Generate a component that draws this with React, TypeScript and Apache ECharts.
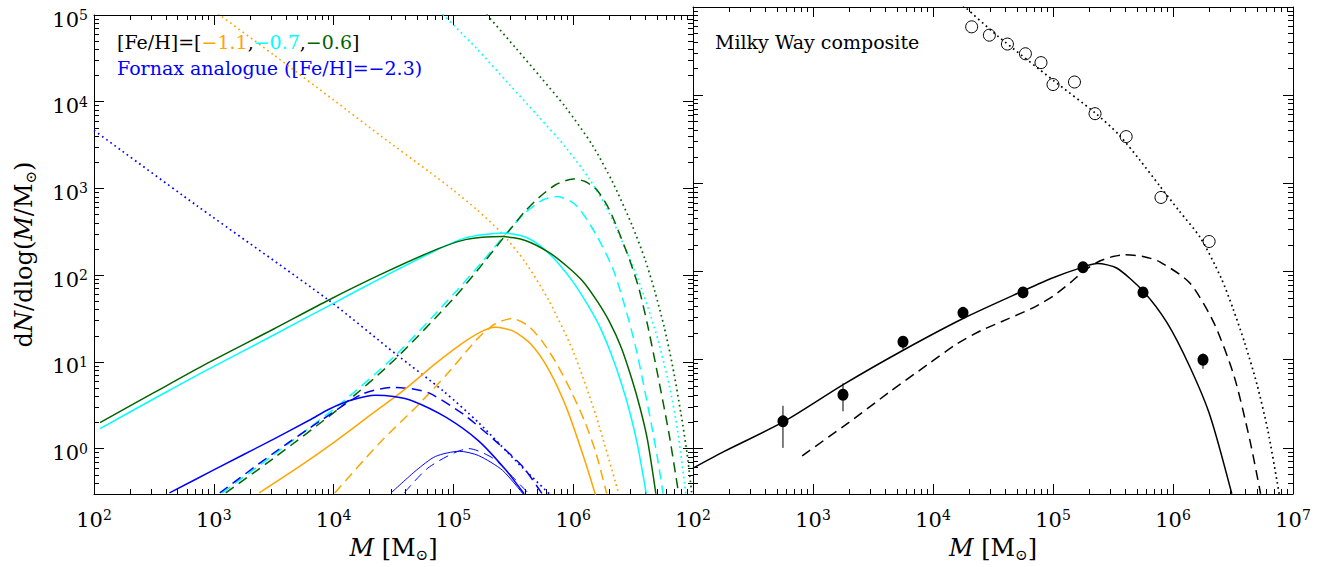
import React, { useEffect, useRef } from 'react';
import * as echarts from 'echarts';

// ---------------- DATA ----------------
// Curves are read off the picture as pairs [log10(M / Msun), log10(dN/dlog(M/Msun))]

// Left panel: [Fe/H] = -1.1 (orange), -0.7 (cyan), -0.6 (green), Fornax analogue (blue)
const orangeSolid = [[3.38,-0.51],[3.7,-0.22],[4.0,0.07],[4.3,0.38],[4.6,0.69],[4.85,0.98],[5.08,1.22],[5.25,1.36],[5.35,1.40],[5.50,1.355],[5.65,1.20],[5.80,0.90],[5.95,0.45],[6.10,-0.15],[6.19,-0.55]];
const orangeDashed = [[4.01,-0.51],[4.38,0.06],[4.71,0.51],[4.94,0.85],[5.21,1.28],[5.35,1.44],[5.49,1.50],[5.62,1.42],[5.74,1.24],[5.87,0.96],[5.99,0.64],[6.10,0.30],[6.19,-0.05],[6.28,-0.52]];
const orangeDotted = [[3.0,5.05],[3.50,4.54],[4.0,4.02],[4.40,3.60],[4.8,3.19],[5.0,2.98],[5.2,2.75],[5.4,2.49],[5.6,2.15],[5.8,1.70],[6.0,1.12],[6.19,0.38],[6.38,-0.52]];

const cyanSolid = [[2.05,0.23],[2.5,0.575],[2.94,0.905],[3.5,1.31],[3.99,1.67],[4.4,1.97],[4.83,2.27],[5.1,2.43],[5.41,2.487],[5.60,2.44],[5.75,2.31],[5.88,2.13],[6.00,1.92],[6.12,1.66],[6.22,1.41],[6.32,1.08],[6.41,0.72],[6.48,0.38],[6.54,0.02],[6.61,-0.52]];
const cyanDashed = [[3.07,-0.51],[3.5,-0.07],[4.05,0.51],[4.52,1.08],[5.0,1.78],[5.25,2.17],[5.44,2.48],[5.60,2.72],[5.75,2.87],[5.87,2.906],[5.97,2.86],[6.05,2.77],[6.19,2.47],[6.33,2.08],[6.44,1.60],[6.52,1.18],[6.58,0.79],[6.65,0.30],[6.70,-0.08],[6.75,-0.52]];
const cyanDotted = [[4.88,5.05],[5.19,4.62],[5.46,4.21],[5.71,3.83],[5.94,3.47],[6.13,3.12],[6.27,2.80],[6.38,2.48],[6.55,1.92],[6.69,1.34],[6.80,0.74],[6.87,0.22],[6.94,-0.52]];

const greenSolid = [[2.05,0.30],[2.5,0.645],[2.94,0.98],[3.5,1.38],[3.94,1.70],[4.38,2.0],[4.83,2.28],[5.10,2.41],[5.41,2.446],[5.60,2.40],[5.80,2.26],[5.95,2.10],[6.08,1.93],[6.20,1.70],[6.30,1.47],[6.40,1.17],[6.49,0.80],[6.56,0.46],[6.62,0.10],[6.69,-0.52]];
const greenDashed = [[3.10,-0.51],[3.5,-0.11],[4.05,0.47],[4.52,1.04],[5.0,1.73],[5.25,2.14],[5.44,2.47],[5.60,2.74],[5.71,2.89],[5.85,3.04],[6.0,3.11],[6.1,3.08],[6.2,2.98],[6.30,2.76],[6.38,2.50],[6.47,2.18],[6.55,1.84],[6.62,1.43],[6.69,0.96],[6.80,0.17],[6.88,-0.52]];
const greenDotted = [[5.25,5.05],[5.52,4.62],[5.73,4.28],[5.94,3.93],[6.16,3.50],[6.33,3.07],[6.49,2.58],[6.60,2.18],[6.68,1.82],[6.76,1.40],[6.83,0.95],[6.90,0.40],[6.95,-0.05],[6.99,-0.52]];

const blueSolid = [[2.63,-0.51],[3.0,-0.245],[3.5,0.11],[3.8,0.33],[3.97,0.46],[4.15,0.56],[4.35,0.615],[4.5,0.60],[4.66,0.55],[4.94,0.36],[5.21,0.09],[5.44,-0.25],[5.59,-0.52]];
const blueDashed = [[3.05,-0.51],[3.5,-0.05],[3.9,0.33],[4.24,0.63],[4.49,0.705],[4.65,0.69],[4.80,0.64],[5.08,0.40],[5.35,0.09],[5.58,-0.21],[5.74,-0.52]];
const blueDotted = [[2.0,3.67],[2.85,2.81],[3.96,1.71],[4.52,1.09],[4.92,0.66],[5.21,0.30],[5.52,-0.14],[5.80,-0.52]];
const blueThinSolid = [[4.48,-0.51],[4.69,-0.25],[4.85,-0.09],[5.05,-0.03],[5.21,-0.08],[5.41,-0.25],[5.58,-0.52]];
const blueThinDashed = [[4.59,-0.51],[4.80,-0.21],[5.13,0.0],[5.33,-0.11],[5.49,-0.32],[5.63,-0.52]];

// Right panel: Milky Way composite
const mwSolid = [[2.0,-0.23],[2.26,-0.04],[2.76,0.30],[3.255,0.72],[3.755,1.11],[4.255,1.47],[4.75,1.78],[5.0,1.93],[5.25,2.05],[5.37,2.09],[5.53,2.04],[5.75,1.78],[5.95,1.42],[6.14,0.92],[6.31,0.36],[6.49,-0.52]];
const mwDashed = [[2.91,-0.09],[3.30,0.29],[3.644,0.64],[3.95,0.94],[4.20,1.18],[4.40,1.33],[4.62,1.46],[4.85,1.60],[5.0,1.72],[5.15,1.88],[5.26,2.01],[5.39,2.12],[5.50,2.17],[5.59,2.19],[5.75,2.17],[5.89,2.11],[6.14,1.87],[6.34,1.42],[6.51,0.81],[6.64,0.09],[6.73,-0.52]];
const mwDotted = [[4.25,5.02],[4.54,4.67],[5.01,4.16],[5.35,3.80],[5.55,3.55],[5.72,3.27],[5.89,2.97],[6.05,2.69],[6.23,2.38],[6.40,1.93],[6.50,1.58],[6.60,1.18],[6.70,0.72],[6.79,0.20],[6.87,-0.40],[6.885,-0.52]];

// Filled points with error bars (M in Msun, dN/dlogM)
const mwPointM = [562, 1778, 5623, 17783, 56234, 177828, 562341, 1778279];
const mwPointN = [2.0, 4.0, 16, 34, 58, 112, 58, 10];
const mwPointLo = [1.0, 2.6, 13, 31, 54, 105, 54, 7.9];
const mwPointHi = [3.0, 5.4, 18.5, 37, 62, 120, 62, 11.8];

// Open circles
const gcM = [21000, 29500, 41700, 58900, 79400, 100000, 151000, 224000, 407000, 794000, 2000000];
const gcN = [59600, 47900, 38000, 29500, 23400, 13200, 14100, 6170, 3390, 692, 219];

// Axes (log10 units)
const X_MIN = 2, X_MAX = 7;
const Y_MIN = Math.log10(0.3), Y_MAX = 5;
const xMajorTicks = [2, 3, 4, 5, 6, 7];
const yMajorTicks = [0, 1, 2, 3, 4, 5];
const xLabelsLeft = [2, 3, 4, 5, 6];
const xLabelsRight = [2, 3, 4, 5, 6, 7];
const yLabelsLeft = [0, 1, 2, 3, 4, 5];

// ---------------- STYLE ----------------
const ORANGE = '#FFA500', CYAN = '#00FFFF', GREEN = '#006400', BLUE = '#0000FF', BLACK = '#000000';
const FONT = 'DejaVu Serif';

function minorTicks(lo: number, hi: number) {
  const out: number[] = [];
  for (let n = Math.floor(lo); n < hi; n++) {
    for (let k = 2; k <= 9; k++) {
      const v = n + Math.log10(k);
      if (v > lo + 1e-6 && v < hi - 1e-6) out.push(v);
    }
  }
  return out;
}
const xMinorTicks = minorTicks(X_MIN, X_MAX);
const yMinorTicks = minorTicks(Y_MIN, Y_MAX);

const axisLineStyle = { color: BLACK, width: 1 };

const xRich = {
  b: { fontFamily: FONT, fontSize: 21, color: BLACK, lineHeight: 24, verticalAlign: 'middle' },
  s: { fontFamily: FONT, fontSize: 14, color: BLACK, lineHeight: 10, verticalAlign: 'top' },
};
const yRich = {
  b: { fontFamily: FONT, fontSize: 21, color: BLACK, lineHeight: 14, verticalAlign: 'bottom' },
  s: { fontFamily: FONT, fontSize: 14, color: BLACK, lineHeight: 30, verticalAlign: 'middle' },
};
const titleRich = {
  i: { fontFamily: FONT, fontSize: 24, fontStyle: 'italic', color: BLACK, lineHeight: 28 },
  r: { fontFamily: FONT, fontSize: 24, color: BLACK, lineHeight: 28 },
  u: { fontFamily: FONT, fontSize: 15, color: BLACK, lineHeight: 12, verticalAlign: 'bottom' },
};
const titleStyle = { fontFamily: FONT, fontSize: 24, color: BLACK, rich: titleRich };

function makeXAxes(gridIndex: number, labels: number[]) {
  const base = { type: 'value', gridIndex, min: X_MIN, max: X_MAX, splitLine: { show: false }, silent: true };
  return [
    {
      ...base, position: 'bottom',
      axisLine: { show: true, onZero: false, lineStyle: axisLineStyle },
      axisTick: { show: true, inside: true, length: 10, customValues: xMajorTicks, lineStyle: axisLineStyle },
      axisLabel: { show: true, customValues: labels, margin: 14, rich: xRich,
        formatter: (v: number) => `{b|10}{s|${Math.round(v)}}` },
      name: '{i|M} {r|[M}{u|⊙}{r|]}', nameLocation: 'middle', nameGap: 40, nameTextStyle: titleStyle,
    },
    {
      ...base, position: 'bottom',
      axisLine: { show: false, onZero: false },
      axisTick: { show: true, inside: true, length: 5, customValues: xMinorTicks, lineStyle: axisLineStyle },
      axisLabel: { show: false },
    },
    {
      ...base, position: 'top',
      axisLine: { show: true, onZero: false, lineStyle: axisLineStyle },
      axisTick: { show: true, inside: true, length: 10, customValues: xMajorTicks, lineStyle: axisLineStyle },
      axisLabel: { show: false },
    },
    {
      ...base, position: 'top',
      axisLine: { show: false, onZero: false },
      axisTick: { show: true, inside: true, length: 5, customValues: xMinorTicks, lineStyle: axisLineStyle },
      axisLabel: { show: false },
    },
  ];
}

function makeYAxes(gridIndex: number, labels: number[] | null) {
  const base = { type: 'value', gridIndex, min: Y_MIN, max: Y_MAX, splitLine: { show: false }, silent: true };
  const main: any = {
    ...base, position: 'left',
    axisLine: { show: true, onZero: false, lineStyle: axisLineStyle },
    axisTick: { show: true, inside: true, length: 10, customValues: yMajorTicks, lineStyle: axisLineStyle },
    axisLabel: labels
      ? { show: true, customValues: labels, margin: 6, rich: yRich, lineHeight: 30,
          formatter: (v: number) => `{b|10}{s|${Math.round(v)}}` }
      : { show: false },
  };
  if (labels) {
    main.name = '{r|d}{i|N}{r|/dlog(}{i|M}{r|/M}{u|⊙}{r|)}';
    main.nameLocation = 'middle';
    main.nameRotate = 90;
    main.nameGap = 56;
    main.nameTextStyle = titleStyle;
  }
  return [
    main,
    {
      ...base, position: 'left',
      axisLine: { show: false, onZero: false },
      axisTick: { show: true, inside: true, length: 5, customValues: yMinorTicks, lineStyle: axisLineStyle },
      axisLabel: { show: false },
    },
    {
      ...base, position: 'right',
      axisLine: { show: true, onZero: false, lineStyle: axisLineStyle },
      axisTick: { show: true, inside: true, length: 10, customValues: yMajorTicks, lineStyle: axisLineStyle },
      axisLabel: { show: false },
    },
    {
      ...base, position: 'right',
      axisLine: { show: false, onZero: false },
      axisTick: { show: true, inside: true, length: 5, customValues: yMinorTicks, lineStyle: axisLineStyle },
      axisLabel: { show: false },
    },
  ];
}

const DASH = [10, 6];
const DOT = [1.7, 3.4];

function curve(data: number[][], color: string, kind: 'solid' | 'dashed' | 'dotted', grid: number, width = 1.5) {
  return {
    type: 'line', xAxisIndex: grid * 4, yAxisIndex: grid * 4, data,
    symbol: 'none', smooth: 0.25, silent: true, clip: true,
    lineStyle: {
      color,
      width: kind === 'dotted' ? 1.7 : width,
      type: kind === 'solid' ? 'solid' : kind === 'dashed' ? DASH : DOT,
      cap: 'butt',
    },
  };
}

export default function App() {
  const ref = useRef<HTMLDivElement>(null);
  useEffect(() => {
    if (!ref.current) return;
    const chart = echarts.init(ref.current, undefined, { renderer: 'svg' });
    const lg = (a: number[]) => a.map((v) => Math.log10(v));
    const pM = lg(mwPointM), pN = lg(mwPointN), pLo = lg(mwPointLo), pHi = lg(mwPointHi);
    const cM = lg(gcM), cN = lg(gcN);

    const option: any = {
      animation: false,
      backgroundColor: '#ffffff',
      grid: [
        { left: 94, top: 7, width: 599, height: 487 },
        { left: 693, top: 7, width: 600, height: 487 },
      ],
      xAxis: [...makeXAxes(0, xLabelsLeft), ...makeXAxes(1, xLabelsRight)],
      yAxis: [...makeYAxes(0, yLabelsLeft), ...makeYAxes(1, null)],
      series: [
        curve(orangeDotted, ORANGE, 'dotted', 0),
        curve(cyanDotted, CYAN, 'dotted', 0),
        curve(greenDotted, GREEN, 'dotted', 0),
        curve(blueDotted, BLUE, 'dotted', 0),
        curve(orangeDashed, ORANGE, 'dashed', 0),
        curve(cyanDashed, CYAN, 'dashed', 0),
        curve(greenDashed, GREEN, 'dashed', 0),
        curve(blueDashed, BLUE, 'dashed', 0),
        curve(blueThinDashed, BLUE, 'dashed', 0, 1),
        curve(orangeSolid, ORANGE, 'solid', 0),
        curve(cyanSolid, CYAN, 'solid', 0),
        curve(greenSolid, GREEN, 'solid', 0),
        curve(blueSolid, BLUE, 'solid', 0),
        curve(blueThinSolid, BLUE, 'solid', 0, 1),
        curve(mwDotted, BLACK, 'dotted', 1),
        curve(mwDashed, BLACK, 'dashed', 1, 1.5),
        curve(mwSolid, BLACK, 'solid', 1, 1.5),
        {
          type: 'custom', xAxisIndex: 4, yAxisIndex: 4, silent: true,
          data: pM.map((m, i) => [m, pLo[i], pHi[i]]),
          encode: { x: 0, y: [1, 2] },
          renderItem: (params: any, api: any) => {
            const a = api.coord([api.value(0), api.value(1)]);
            const b = api.coord([api.value(0), api.value(2)]);
            return { type: 'line', shape: { x1: a[0], y1: a[1], x2: b[0], y2: b[1] }, style: { stroke: BLACK, lineWidth: 1 } };
          },
        },
        {
          type: 'scatter', xAxisIndex: 4, yAxisIndex: 4, silent: true,
          data: pM.map((m, i) => [m, pN[i]]),
          symbol: 'circle', symbolSize: [11, 12],
          itemStyle: { color: BLACK, opacity: 1 },
        },
        {
          type: 'scatter', xAxisIndex: 4, yAxisIndex: 4, silent: true,
          data: cM.map((m, i) => [m, cN[i]]),
          symbol: 'circle', symbolSize: [12, 12],
          itemStyle: { color: 'rgba(0,0,0,0)', borderColor: BLACK, borderWidth: 1, opacity: 1 },
        },
      ],
      graphic: [
        {
          type: 'text', x: 117, y: 42, silent: true,
          style: {
            text: '{k|[Fe/H]=[}{o|−1.1}{k|,}{c|−0.7}{k|,}{g|−0.6}{k|]}',
            fontFamily: FONT, fontSize: 19, verticalAlign: 'middle',
            rich: {
              k: { fill: BLACK, fontFamily: FONT, fontSize: 19 },
              o: { fill: ORANGE, fontFamily: FONT, fontSize: 19 },
              c: { fill: CYAN, fontFamily: FONT, fontSize: 19 },
              g: { fill: GREEN, fontFamily: FONT, fontSize: 19 },
            },
          },
        },
        {
          type: 'text', x: 117, y: 68, silent: true,
          style: { text: 'Fornax analogue ([Fe/H]=−2.3)', fill: BLUE, fontFamily: FONT, fontSize: 19, verticalAlign: 'middle' },
        },
        {
          type: 'text', x: 715, y: 42, silent: true,
          style: { text: 'Milky Way composite', fill: BLACK, fontFamily: FONT, fontSize: 19, verticalAlign: 'middle' },
        },
      ],
    };
    chart.setOption(option);
    return () => chart.dispose();
  }, []);
  return <div ref={ref} style={{ position: 'absolute', left: 0, top: 0, width: 1325, height: 567, background: '#fff' }} />;
}
